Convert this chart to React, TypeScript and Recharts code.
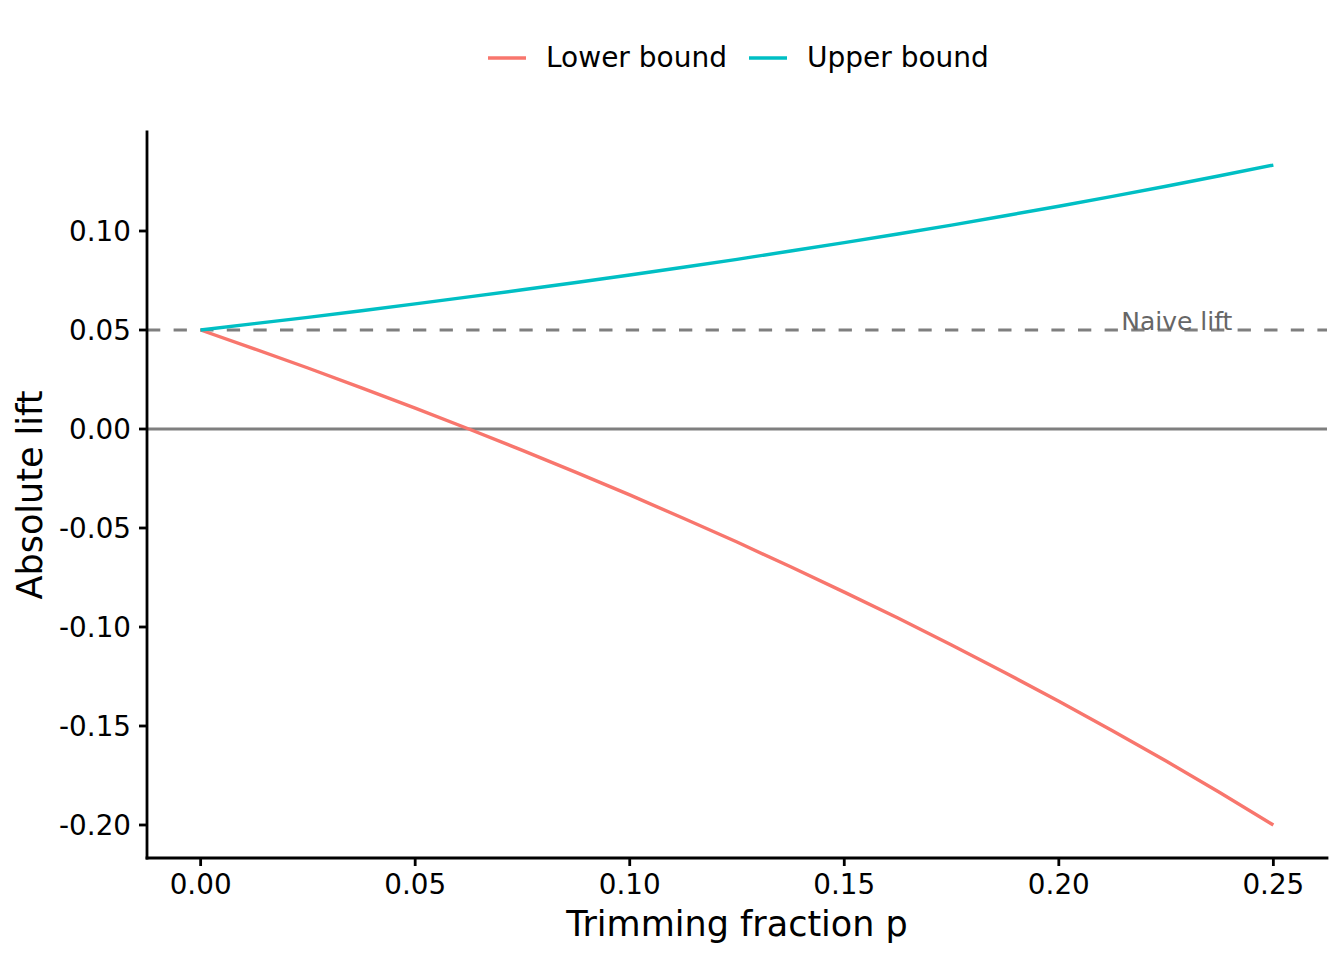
import React from 'react';
import { LineChart, Line, XAxis, YAxis, ReferenceLine, ReferenceDot, Legend } from 'recharts';

// trimming fraction p
const pValues = [
  0, 0.0125, 0.025, 0.0375, 0.05, 0.0625, 0.075, 0.0875, 0.1, 0.1125, 0.125,
  0.1375, 0.15, 0.1625, 0.175, 0.1875, 0.2, 0.2125, 0.225, 0.2375, 0.25,
];

const lowerBound = [
  0.05, 0.0405, 0.0308, 0.0208, 0.0105, 0, -0.0108, -0.0219, -0.0333, -0.0451, -0.0571,
  -0.0696, -0.0824, -0.0955, -0.1091, -0.1231, -0.1375, -0.1524, -0.1677, -0.1836, -0.2,
];

const upperBound = [
  0.05, 0.0532, 0.0564, 0.0597, 0.0632, 0.0667, 0.0703, 0.074, 0.0778, 0.0817, 0.0857,
  0.0899, 0.0941, 0.0985, 0.103, 0.1077, 0.1125, 0.1175, 0.1226, 0.1279, 0.1333,
];

const xTicks = [0, 0.05, 0.1, 0.15, 0.2, 0.25];
const yTicks = [-0.2, -0.15, -0.1, -0.05, 0, 0.05, 0.1];

const naiveLift = 0.05;
const naiveLabelP = 0.2275;

const data = pValues.map((p, i) => ({
  p,
  lower: lowerBound[i],
  upper: upperBound[i],
}));

const FONT = '"DejaVu Sans", sans-serif';

const renderLegend = (props: any) => {
  const { payload } = props;
  return (
    <div style={{ display: 'flex', alignItems: 'center', height: 32, fontFamily: FONT, fontSize: 28, lineHeight: '32px', color: '#000' }}>
      {payload.map((entry: any) => (
        <div key={entry.value} style={{ display: 'flex', alignItems: 'center', marginRight: 22 }}>
          <svg width={38} height={4} style={{ marginRight: 20, display: 'block' }}>
            <line x1={0} y1={2} x2={38} y2={2} stroke={entry.color} strokeWidth={3.4} />
          </svg>
          <span style={{ whiteSpace: 'nowrap' }}>{entry.value}</span>
        </div>
      ))}
    </div>
  );
};

const App = () => {
  return (
    <div style={{ position: 'absolute', left: 0, top: 0, background: '#fff' }}>
      <LineChart
        width={1344}
        height={960}
        data={data}
        margin={{ top: 132, right: 17, left: 0, bottom: 0 }}
        style={{ fontFamily: FONT }}
      >
        <XAxis
          dataKey="p"
          type="number"
          domain={[-0.0125, 0.2625]}
          ticks={xTicks}
          tickFormatter={(v: number) => v.toFixed(2)}
          height={102}
          tickSize={8}
          tickMargin={8}
          tick={{ fill: '#000', fontSize: 27.8 }}
          tickLine={{ stroke: '#000', strokeWidth: 2.8 }}
          axisLine={{ stroke: '#000', strokeWidth: 2.8, strokeLinecap: 'square' }}
          allowDataOverflow
          label={{ value: 'Trimming fraction p', position: 'insideBottom', offset: 24, fill: '#000', fontSize: 35 }}
        />
        <YAxis
          type="number"
          domain={[-0.21667, 0.15]}
          ticks={yTicks}
          tickFormatter={(v: number) => v.toFixed(2)}
          width={147}
          tickSize={8}
          tickMargin={8}
          tick={{ fill: '#000', fontSize: 27.8 }}
          tickLine={{ stroke: '#000', strokeWidth: 2.8 }}
          axisLine={{ stroke: '#000', strokeWidth: 2.8, strokeLinecap: 'square' }}
          allowDataOverflow
          label={{
            value: 'Absolute lift',
            angle: -90,
            position: 'insideLeft',
            offset: 30,
            fill: '#000',
            fontSize: 35,
            style: { textAnchor: 'middle' },
          }}
        />
        <Legend
          verticalAlign="middle"
          align="center"
          content={renderLegend}
          wrapperStyle={{ position: 'absolute', top: 42, left: 488, width: 700, height: 32 }}
        />
        <ReferenceLine y={0} stroke="#7f7f7f" strokeWidth={3.2} />
        <ReferenceLine y={naiveLift} stroke="#7f7f7f" strokeWidth={3.2} strokeDasharray="13.3 13.3" />
        <Line
          type="linear"
          dataKey="lower"
          name="Lower bound"
          stroke="#F8766D"
          strokeWidth={3.4}
          dot={false}
          activeDot={false}
          isAnimationActive={false}
        />
        <Line
          type="linear"
          dataKey="upper"
          name="Upper bound"
          stroke="#00BFC4"
          strokeWidth={3.4}
          dot={false}
          activeDot={false}
          isAnimationActive={false}
        />
        <ReferenceDot
          x={naiveLabelP}
          y={naiveLift}
          r={0}
          fill="none"
          stroke="none"
          label={{ value: 'Naive lift', position: 'top', offset: 0, fill: '#666', fontSize: 25 }}
        />
      </LineChart>
    </div>
  );
};

export default App;
